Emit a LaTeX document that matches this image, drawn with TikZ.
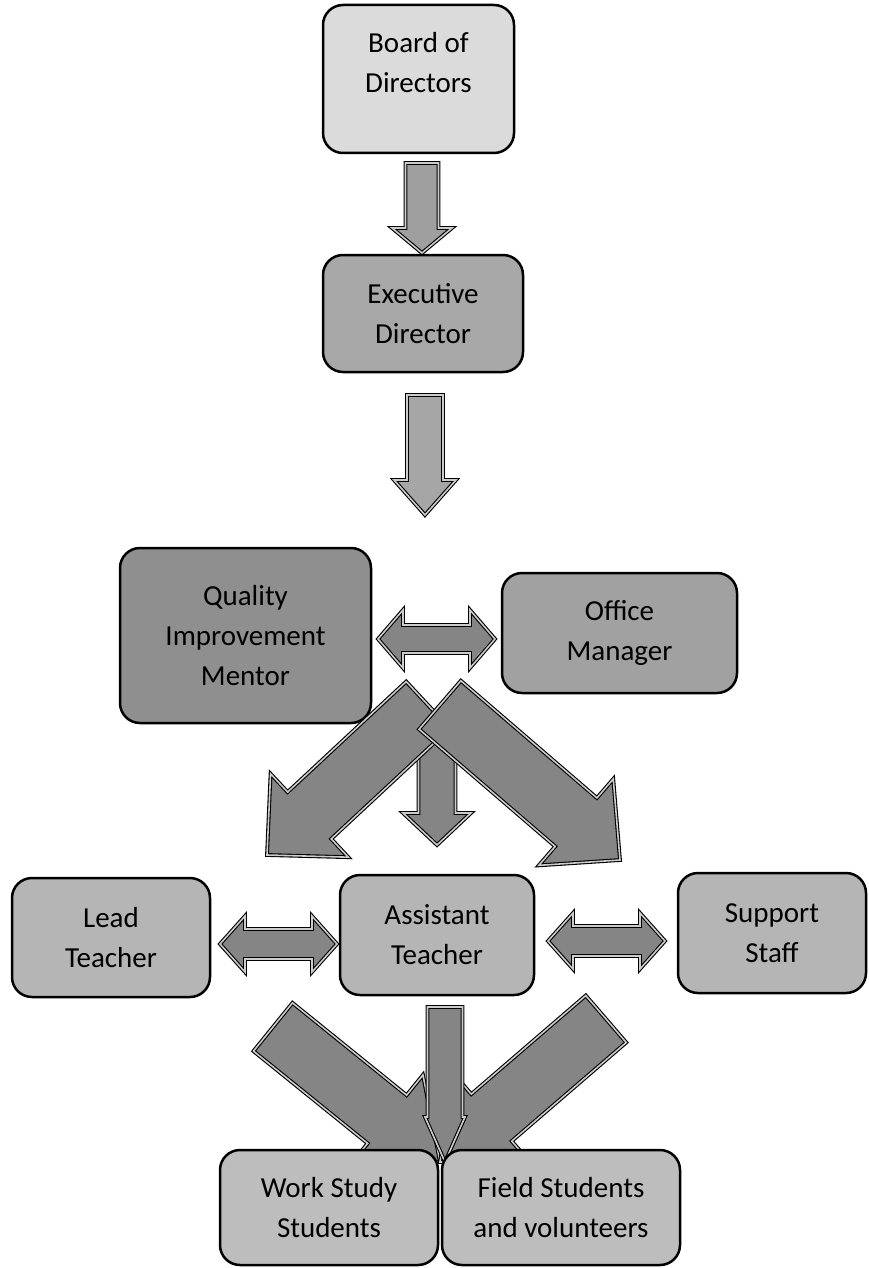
\documentclass[tikz,border=0pt]{standalone}
\usepackage{fontspec}
\setmainfont{Carlito}
\usetikzlibrary{calc}

\definecolor{boardfill}{gray}{0.86}
\definecolor{execfill}{gray}{0.66}
\definecolor{qimfill}{gray}{0.56}
\definecolor{omfill}{gray}{0.63}
\definecolor{teachfill}{gray}{0.71}
\definecolor{studfill}{gray}{0.74}
\definecolor{arrowfill}{gray}{0.52}
\definecolor{arrowedge}{gray}{0.80}

\tikzset{
  box/.style={draw=black, line width=2.5pt, rounded corners=20pt, fill=#1,
    align=center, inner sep=0pt, font=\fontsize{29}{40}\selectfont},
  arrowline/.style={draw=black, line width=1.1pt, double=arrowedge,
    double distance=1.6pt, fill=#1}
}

% tail, tip, shaft half width, head half width, head length, fill
\newcommand{\blockarrow}[6]{
  \coordinate (hb) at ($(#2)!#5!(#1)$);
  \filldraw[arrowline=#6] ($(#1)!#3!90:(#2)$) -- ($(hb)!#3!-90:(#1)$)
    -- ($(hb)!#4!-90:(#1)$) -- (#2) -- ($(hb)!#4!90:(#1)$)
    -- ($(hb)!#3!90:(#1)$) -- ($(#1)!#3!-90:(#2)$) -- cycle;
}
% end, end, shaft half width, head half width, head length, fill
\newcommand{\twowayarrow}[6]{
  \coordinate (hl) at ($(#1)!#5!(#2)$);
  \coordinate (hr) at ($(#2)!#5!(#1)$);
  \filldraw[arrowline=#6] (#1) -- ($(hl)!#4!90:(#2)$) -- ($(hl)!#3!90:(#2)$)
    -- ($(hr)!#3!-90:(#1)$) -- ($(hr)!#4!-90:(#1)$) -- (#2)
    -- ($(hr)!#4!90:(#1)$) -- ($(hr)!#3!90:(#1)$)
    -- ($(hl)!#3!-90:(#2)$) -- ($(hl)!#4!-90:(#2)$) -- cycle;
}

\begin{document}
\begin{tikzpicture}[x=1pt,y=-1pt]
 \useasboundingbox (0,0) rectangle (868,1268);

 \node[box=boardfill, minimum width=191pt, minimum height=148pt, text depth=34pt] (board) at (418.5,79) {Board of\\Directors};
 \node[box=execfill, minimum width=200pt, minimum height=117pt] (exec) at (423,313.5) {Executive\\Director};
 \node[box=qimfill, minimum width=251pt, minimum height=175pt] (qim) at (245.5,635.5) {Quality\\Improvement\\Mentor};
 \node[box=omfill, minimum width=235pt, minimum height=120pt] (office) at (619.5,633) {Office\\Manager};
 \node[box=teachfill, minimum width=198pt, minimum height=119pt] (lead) at (111,937.5) {Lead\\Teacher};
 \node[box=teachfill, minimum width=194pt, minimum height=120pt] (asst) at (437,935) {Assistant\\Teacher};
 \node[box=teachfill, minimum width=188pt, minimum height=120pt] (support) at (772,933) {Support\\Staff};

 % arrow ends
 \coordinate (b1) at (422,163);   \coordinate (e1) at (422,253);
 \coordinate (b2) at (425,395);   \coordinate (e2) at (425,515);
 \coordinate (qo1) at (378,639);  \coordinate (qo2) at (495,639);
 \coordinate (dl1) at (428,705);  \coordinate (dl2) at (267,855);
 \coordinate (dr1) at (440,705);  \coordinate (dr2) at (620,860);
 \coordinate (dm1) at (437,718);  \coordinate (dm2) at (437,845);
 \coordinate (la1) at (220,944);  \coordinate (la2) at (337,944);
 \coordinate (as1) at (548,941);  \coordinate (as2) at (665,941);
 \coordinate (sl1) at (273,1027); \coordinate (sl2) at (440,1162);
 \coordinate (sr1) at (606,1019); \coordinate (sr2) at (440,1162);
 \coordinate (sm1) at (445,1007); \coordinate (sm2) at (445,1162);

 \blockarrow{b1}{e1}{16.5pt}{30pt}{25pt}{gray!75}
 \blockarrow{b2}{e2}{18pt}{31pt}{35pt}{gray!70}
 \twowayarrow{qo1}{qo2}{14pt}{29pt}{25pt}{arrowfill}
 \blockarrow{dm1}{dm2}{18.5pt}{34pt}{32pt}{arrowfill}
 \blockarrow{dl1}{dl2}{32pt}{57pt}{58pt}{arrowfill}
 \blockarrow{dr1}{dr2}{32pt}{57pt}{58pt}{arrowfill}
 \twowayarrow{la1}{la2}{15pt}{28pt}{25pt}{arrowfill}
 \twowayarrow{as1}{as2}{15pt}{28pt}{25pt}{arrowfill}
 \blockarrow{sl1}{sl2}{31pt}{57pt}{68pt}{arrowfill}
 \blockarrow{sr1}{sr2}{31pt}{57pt}{68pt}{arrowfill}
 \blockarrow{sm1}{sm2}{17.5pt}{20pt}{45pt}{arrowfill}

 \node[box=studfill, minimum width=218pt, minimum height=115pt] (work) at (329,1207.5) {Work Study\\Students};
 \node[box=studfill, minimum width=238pt, minimum height=115pt] (field) at (561,1207.5) {Field Students\\and volunteers};
\end{tikzpicture}
\end{document}
